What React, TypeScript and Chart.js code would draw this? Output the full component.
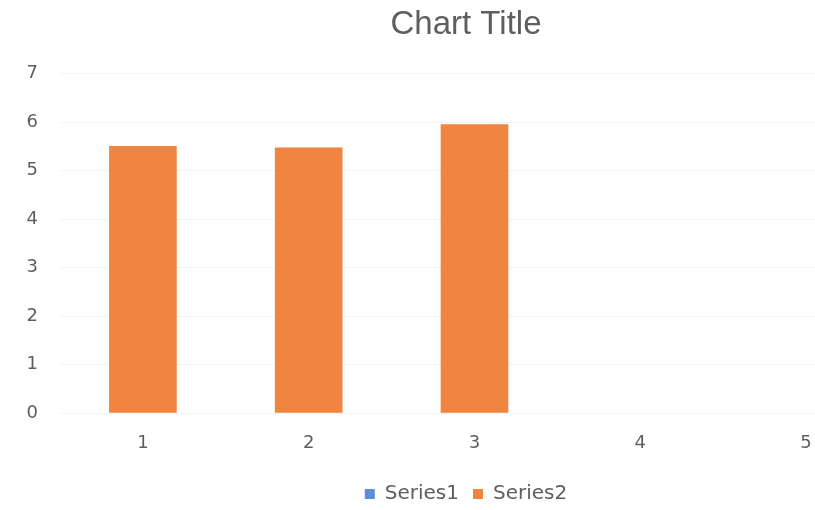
import React, { useEffect, useRef } from "react";
import { Chart, registerables } from "chart.js";

Chart.register(...registerables);

// Category labels and series values
const categories: string[] = ["1", "2", "3", "4", "5"];
const series1: (number | null)[] = [null, null, null, null, null];
const series2: (number | null)[] = [5.5, 5.47, 5.95, null, null];

// Value axis range
const yMin = 0;
const yMax = 7;
const yStep = 1;

const TEXT_COLOR = "#5e5e5e";
const SERIES1_COLOR = "#5b8ed6";
const SERIES2_COLOR = "#ef8540";

export default function App() {
  const canvasRef = useRef<HTMLCanvasElement | null>(null);

  useEffect(() => {
    if (!canvasRef.current) return;
    const chart = new Chart(canvasRef.current, {
      type: "bar",
      data: {
        labels: categories,
        datasets: [
          {
            label: "Series1",
            data: series1,
            backgroundColor: SERIES1_COLOR,
            borderWidth: 0,
            grouped: false,
            barThickness: 67,
          },
          {
            label: "Series2",
            data: series2,
            backgroundColor: SERIES2_COLOR,
            borderWidth: 0,
            grouped: false,
            barThickness: 67,
          },
        ],
      },
      options: {
        responsive: false,
        animation: false,
        layout: { padding: { left: 0, right: 0, top: 0, bottom: -4 } },
        plugins: {
          title: {
            display: true,
            text: "Chart Title",
            color: TEXT_COLOR,
            font: { family: "Liberation Sans", size: 33, weight: "normal" },
            padding: { top: 5, bottom: 29 },
          },
          legend: {
            position: "bottom",
            labels: {
              boxWidth: 10,
              boxHeight: 10,
              padding: 14,
              color: TEXT_COLOR,
              font: { family: "DejaVu Sans", size: 20 },
            },
          },
          tooltip: { enabled: false },
        },
        scales: {
          x: {
            grid: { display: false, drawTicks: false },
            border: { display: false },
            ticks: {
              padding: 20,
              color: TEXT_COLOR,
              font: { family: "DejaVu Sans", size: 18 },
            },
            afterFit: (s: any) => {
              s.height = 57;
            },
          },
          y: {
            min: yMin,
            max: yMax,
            ticks: {
              stepSize: yStep,
              padding: 22,
              color: TEXT_COLOR,
              font: { family: "DejaVu Sans", size: 18 },
            },
            grid: { color: "#f4f4f4", drawTicks: false },
            border: { display: false },
            afterFit: (s: any) => {
              s.width = 60;
            },
          },
          // empty right-hand gutter so the plot ends before the canvas edge
          gutter: {
            type: "linear",
            position: "right",
            display: true,
            grid: { display: false, drawTicks: false },
            border: { display: false },
            ticks: { display: false },
            afterFit: (s: any) => {
              s.width = 43;
            },
          },
        },
      },
    });
    return () => chart.destroy();
  }, []);

  return (
    <div
      style={{
        position: "fixed",
        left: 0,
        top: 0,
        width: 815,
        height: 510,
        overflow: "hidden",
        background: "#ffffff",
      }}
    >
      <canvas ref={canvasRef} width={932} height={510} style={{ display: "block" }} />
    </div>
  );
}
